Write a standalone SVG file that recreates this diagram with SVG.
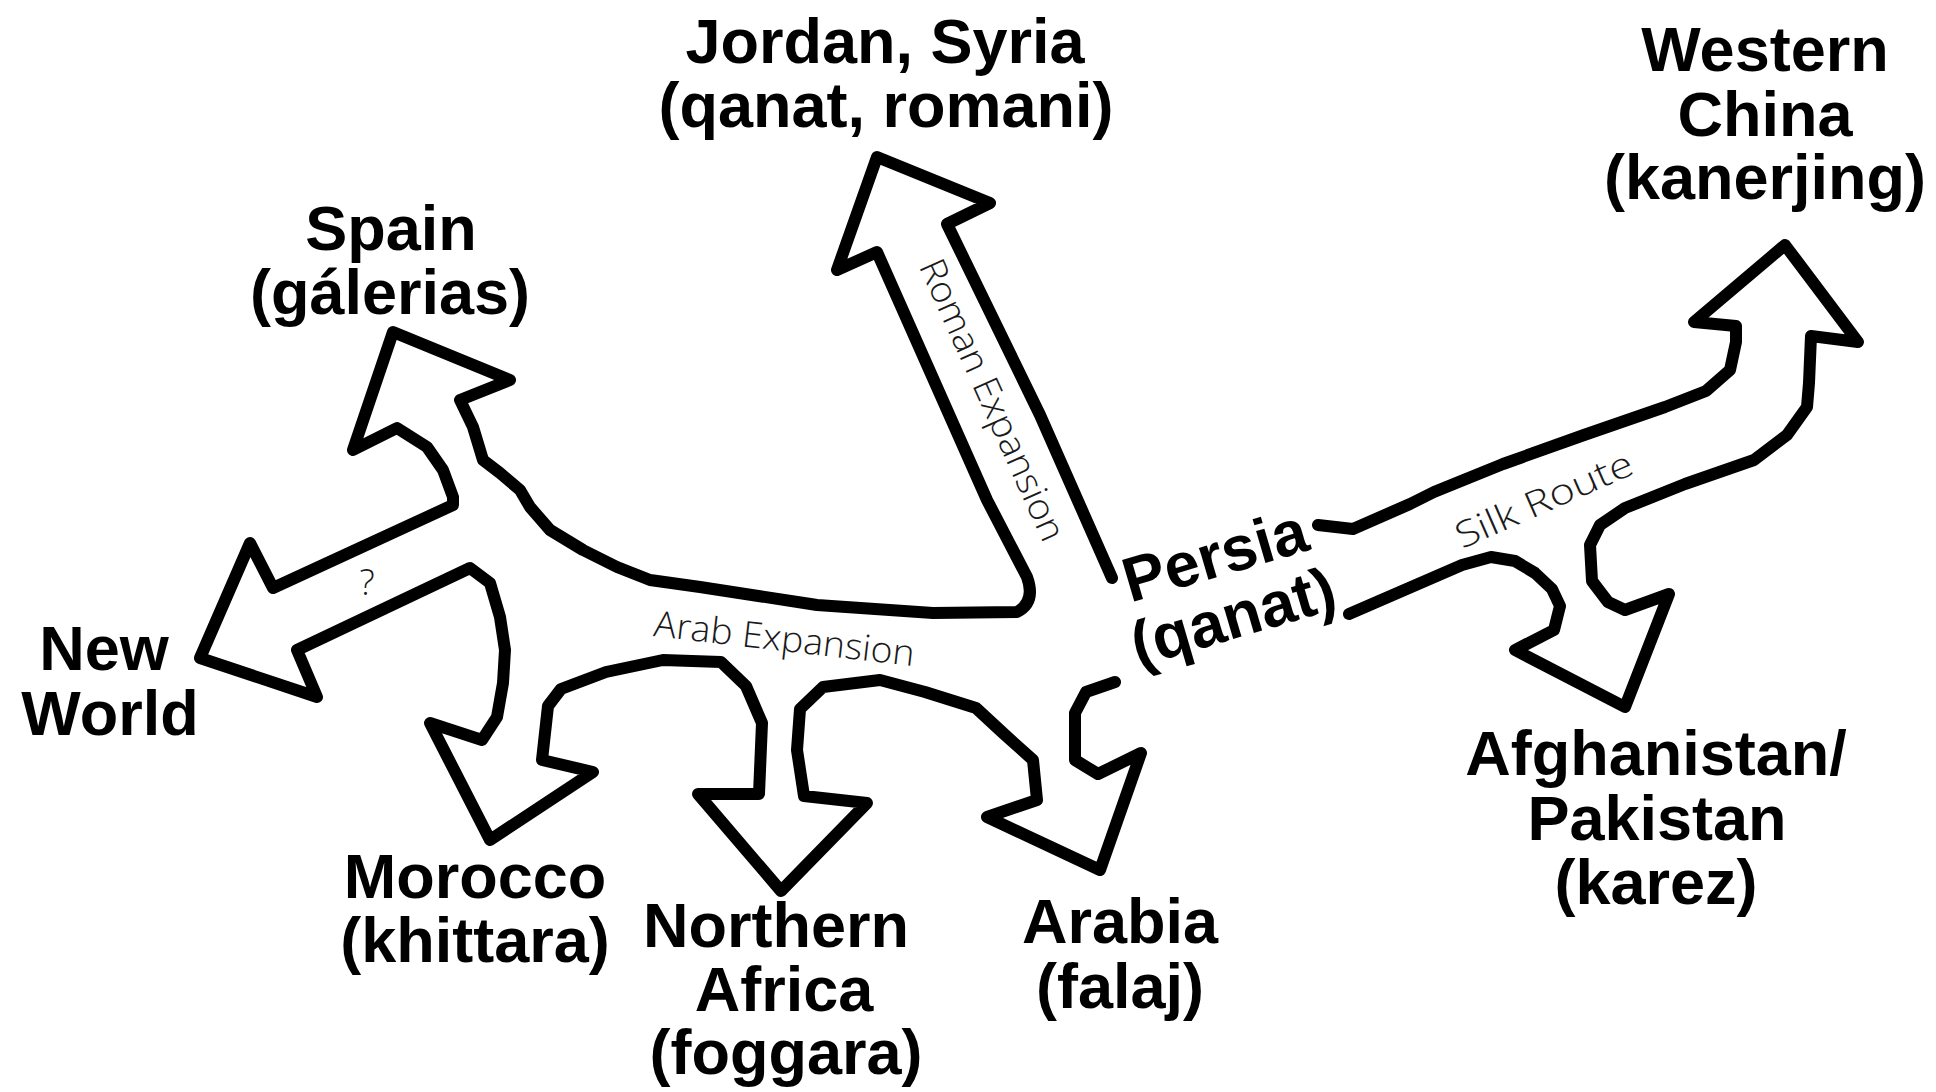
<svg xmlns="http://www.w3.org/2000/svg" width="1936" height="1092" viewBox="0 0 1936 1092">
<style>
.lbl{font-family:"Liberation Sans",Arial,sans-serif;font-weight:bold;font-size:63px;fill:#000;text-anchor:middle}
.hand{font-family:"Open Sans","DejaVu Sans",sans-serif;font-weight:300;font-size:36px;fill:#1a1a1a;text-anchor:middle}
.outline{fill:none;stroke:#000;stroke-width:12;stroke-linejoin:round;stroke-linecap:round}
</style>
<rect width="1936" height="1092" fill="#fff"/>
<g id="connectors">
<path class="outline" d="M1112,578 L1040,415 L947,224 L990,203 L877,157 L837,270 L877,252 L987,500 L1027,577 Q1036,602 1017,612 L933,613 L817,605 L700,587 L650,580 L617,567 L583,550 L550,530 L530,507 L520,490 L500,473 L483,460 L473,427 L460,400 L510,380 L393,332 L353,450 L397,428 L427,447 L443,470 L453,497 L453,505 L273,588 L250,543 L200,658 L317,697 L297,650 L470,568 L490,583 L500,617 L505,650 L503,683 L497,717 L482,740 L430,723 L490,840 L593,772 L542,760 L548,706 L561,689 L606,672 L663,660 L721,662 L746,686 L762,723 L759,794 L698,794 L781,891 L867,803 L804,796 L797,750 L800,709 L823,687 L880,680 L925,692 L976,708 L1003,733 L1033,760 L1037,800 L987,817 L1100,870 L1141,753 L1098,774 L1075,760 L1075,713 L1086,692 L1115,682"/>
<path class="outline" d="M1318,525 L1353,529 L1410,504 L1434,492 L1503,464 L1584,435 L1665,407 L1706,391 L1730,370 L1736,342 L1736,326 L1694,322 L1785,245 L1858,342 L1811,336 L1809,383 L1807,407 L1787,435 L1754,460 L1685,484 L1625,508 L1600,525 L1590,545 L1592,581 L1608,602 L1625,610 L1669,594 L1625,707 L1515,650 L1554,630 L1560,606 L1552,589 L1535,573 L1515,561 L1491,557 L1462,565 L1349,614"/>
<text class="hand" transform="translate(981,405) rotate(65.8)" textLength="305" lengthAdjust="spacingAndGlyphs">Roman Expansion</text>
<text class="hand" transform="translate(783,651) rotate(6.6)" textLength="262" lengthAdjust="spacingAndGlyphs">Arab Expansion</text>
<text class="hand" transform="translate(1549,511) rotate(-23.6)" font-size="33" textLength="190" lengthAdjust="spacingAndGlyphs">Silk Route</text>
<text class="hand" x="367" y="595" font-size="32">?</text>
</g>
<g id="persia"><g transform="translate(1221,576) rotate(-16.4)"><text class="lbl" x="0" y="0">Persia</text><text class="lbl" x="0" y="64">(qanat)</text></g></g>
<g id="jordan"><text class="lbl" x="885" y="63">Jordan, Syria</text><text class="lbl" x="886" y="127">(qanat, romani)</text></g>
<g id="spain"><text class="lbl" x="391" y="250">Spain</text><text class="lbl" x="390" y="314">(gálerias)</text></g>
<g id="newworld"><text class="lbl" x="104" y="670">New</text><text class="lbl" x="110" y="735">World</text></g>
<g id="morocco"><text class="lbl" x="475" y="898">Morocco</text><text class="lbl" x="475" y="962">(khittara)</text></g>
<g id="northafrica"><text class="lbl" x="776" y="947">Northern</text><text class="lbl" x="784" y="1011">Africa</text><text class="lbl" x="786" y="1074">(foggara)</text></g>
<g id="arabia"><text class="lbl" x="1120" y="943">Arabia</text><text class="lbl" x="1120" y="1008">(falaj)</text></g>
<g id="afghanistan"><text class="lbl" x="1656" y="775">Afghanistan/</text><text class="lbl" x="1657" y="840">Pakistan</text><text class="lbl" x="1656" y="904">(karez)</text></g>
<g id="china"><text class="lbl" x="1765" y="71">Western</text><text class="lbl" x="1765" y="136">China</text><text class="lbl" x="1765" y="199">(kanerjing)</text></g>
</svg>
